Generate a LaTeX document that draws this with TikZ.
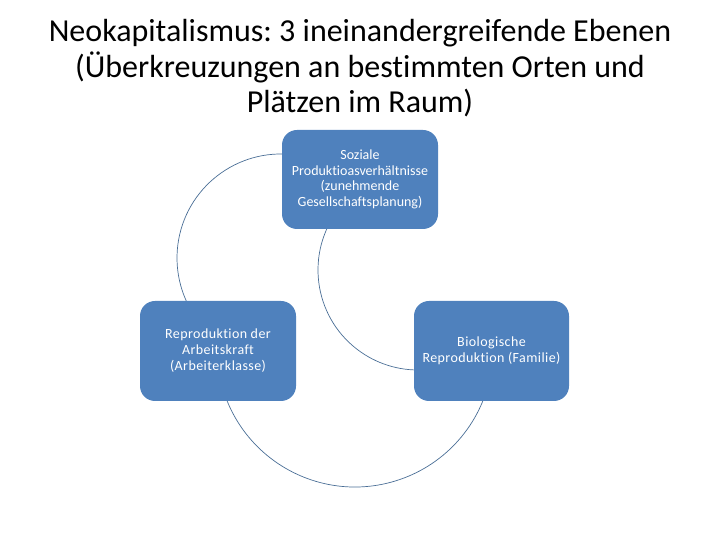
\documentclass[tikz,border=0pt]{standalone}
\usepackage{fontspec}
\setmainfont{Carlito}[Ligatures=NoCommon]
\newfontfamily\boxfont{Carlito}[LetterSpace=3,Ligatures=NoCommon]
\definecolor{boxblue}{HTML}{4F81BD}
\definecolor{arcblue}{HTML}{4A6E96}
\frenchspacing
\begin{document}
\begin{tikzpicture}[x=1pt,y=1pt,
  titletext/.style={anchor=base,inner sep=0pt,font=\fontsize{32}{36}\selectfont},
  bluebox/.style={fill=boxblue,rounded corners=15pt,inner sep=0pt,text=white,align=center},
  cyclearc/.style={draw=arcblue,line width=0.7pt}]
\useasboundingbox (0,0) rectangle (720,540);
\node[titletext] (t1) at (360,498.3) {Neokapitalismus: 3 ineinandergreifende Ebenen};
\node[titletext] (t2) at (360,462.3) {(Überkreuzungen an bestimmten Orten und};
\node[titletext] (t3) at (360,427) {Plätzen im Raum)};
% arcs
\coordinate (c1) at (281,282);
\coordinate (c2) at (418,270);
\coordinate (c3) at (355,191);
\draw[cyclearc] (c1) ++(80:104) arc[start angle=80,end angle=215,radius=104];
\draw[cyclearc] (c2) ++(145:100) arc[start angle=145,end angle=275,radius=100];
\draw[cyclearc] (c3) ++(195:138) arc[start angle=195,end angle=345,radius=138];
% boxes
\node[bluebox,minimum width=156pt,minimum height=99pt,
  font=\fontsize{14}{15.5}\selectfont] (top) at (360,360.5)
  {Soziale\\Produktioasverhältnisse\\(zunehmende\\Gesellschaftsplanung)};
\node[bluebox,minimum width=156pt,minimum height=100pt,
  font=\fontsize{14}{16}\boxfont] (left) at (218,189)
  {Reproduktion der\\Arbeitskraft\\(Arbeiterklasse)};
\node[bluebox,minimum width=155pt,minimum height=100pt,
  font=\fontsize{14}{16}\boxfont] (right) at (491.5,189)
  {Biologische\\Reproduktion (Familie)};
\end{tikzpicture}
\end{document}
